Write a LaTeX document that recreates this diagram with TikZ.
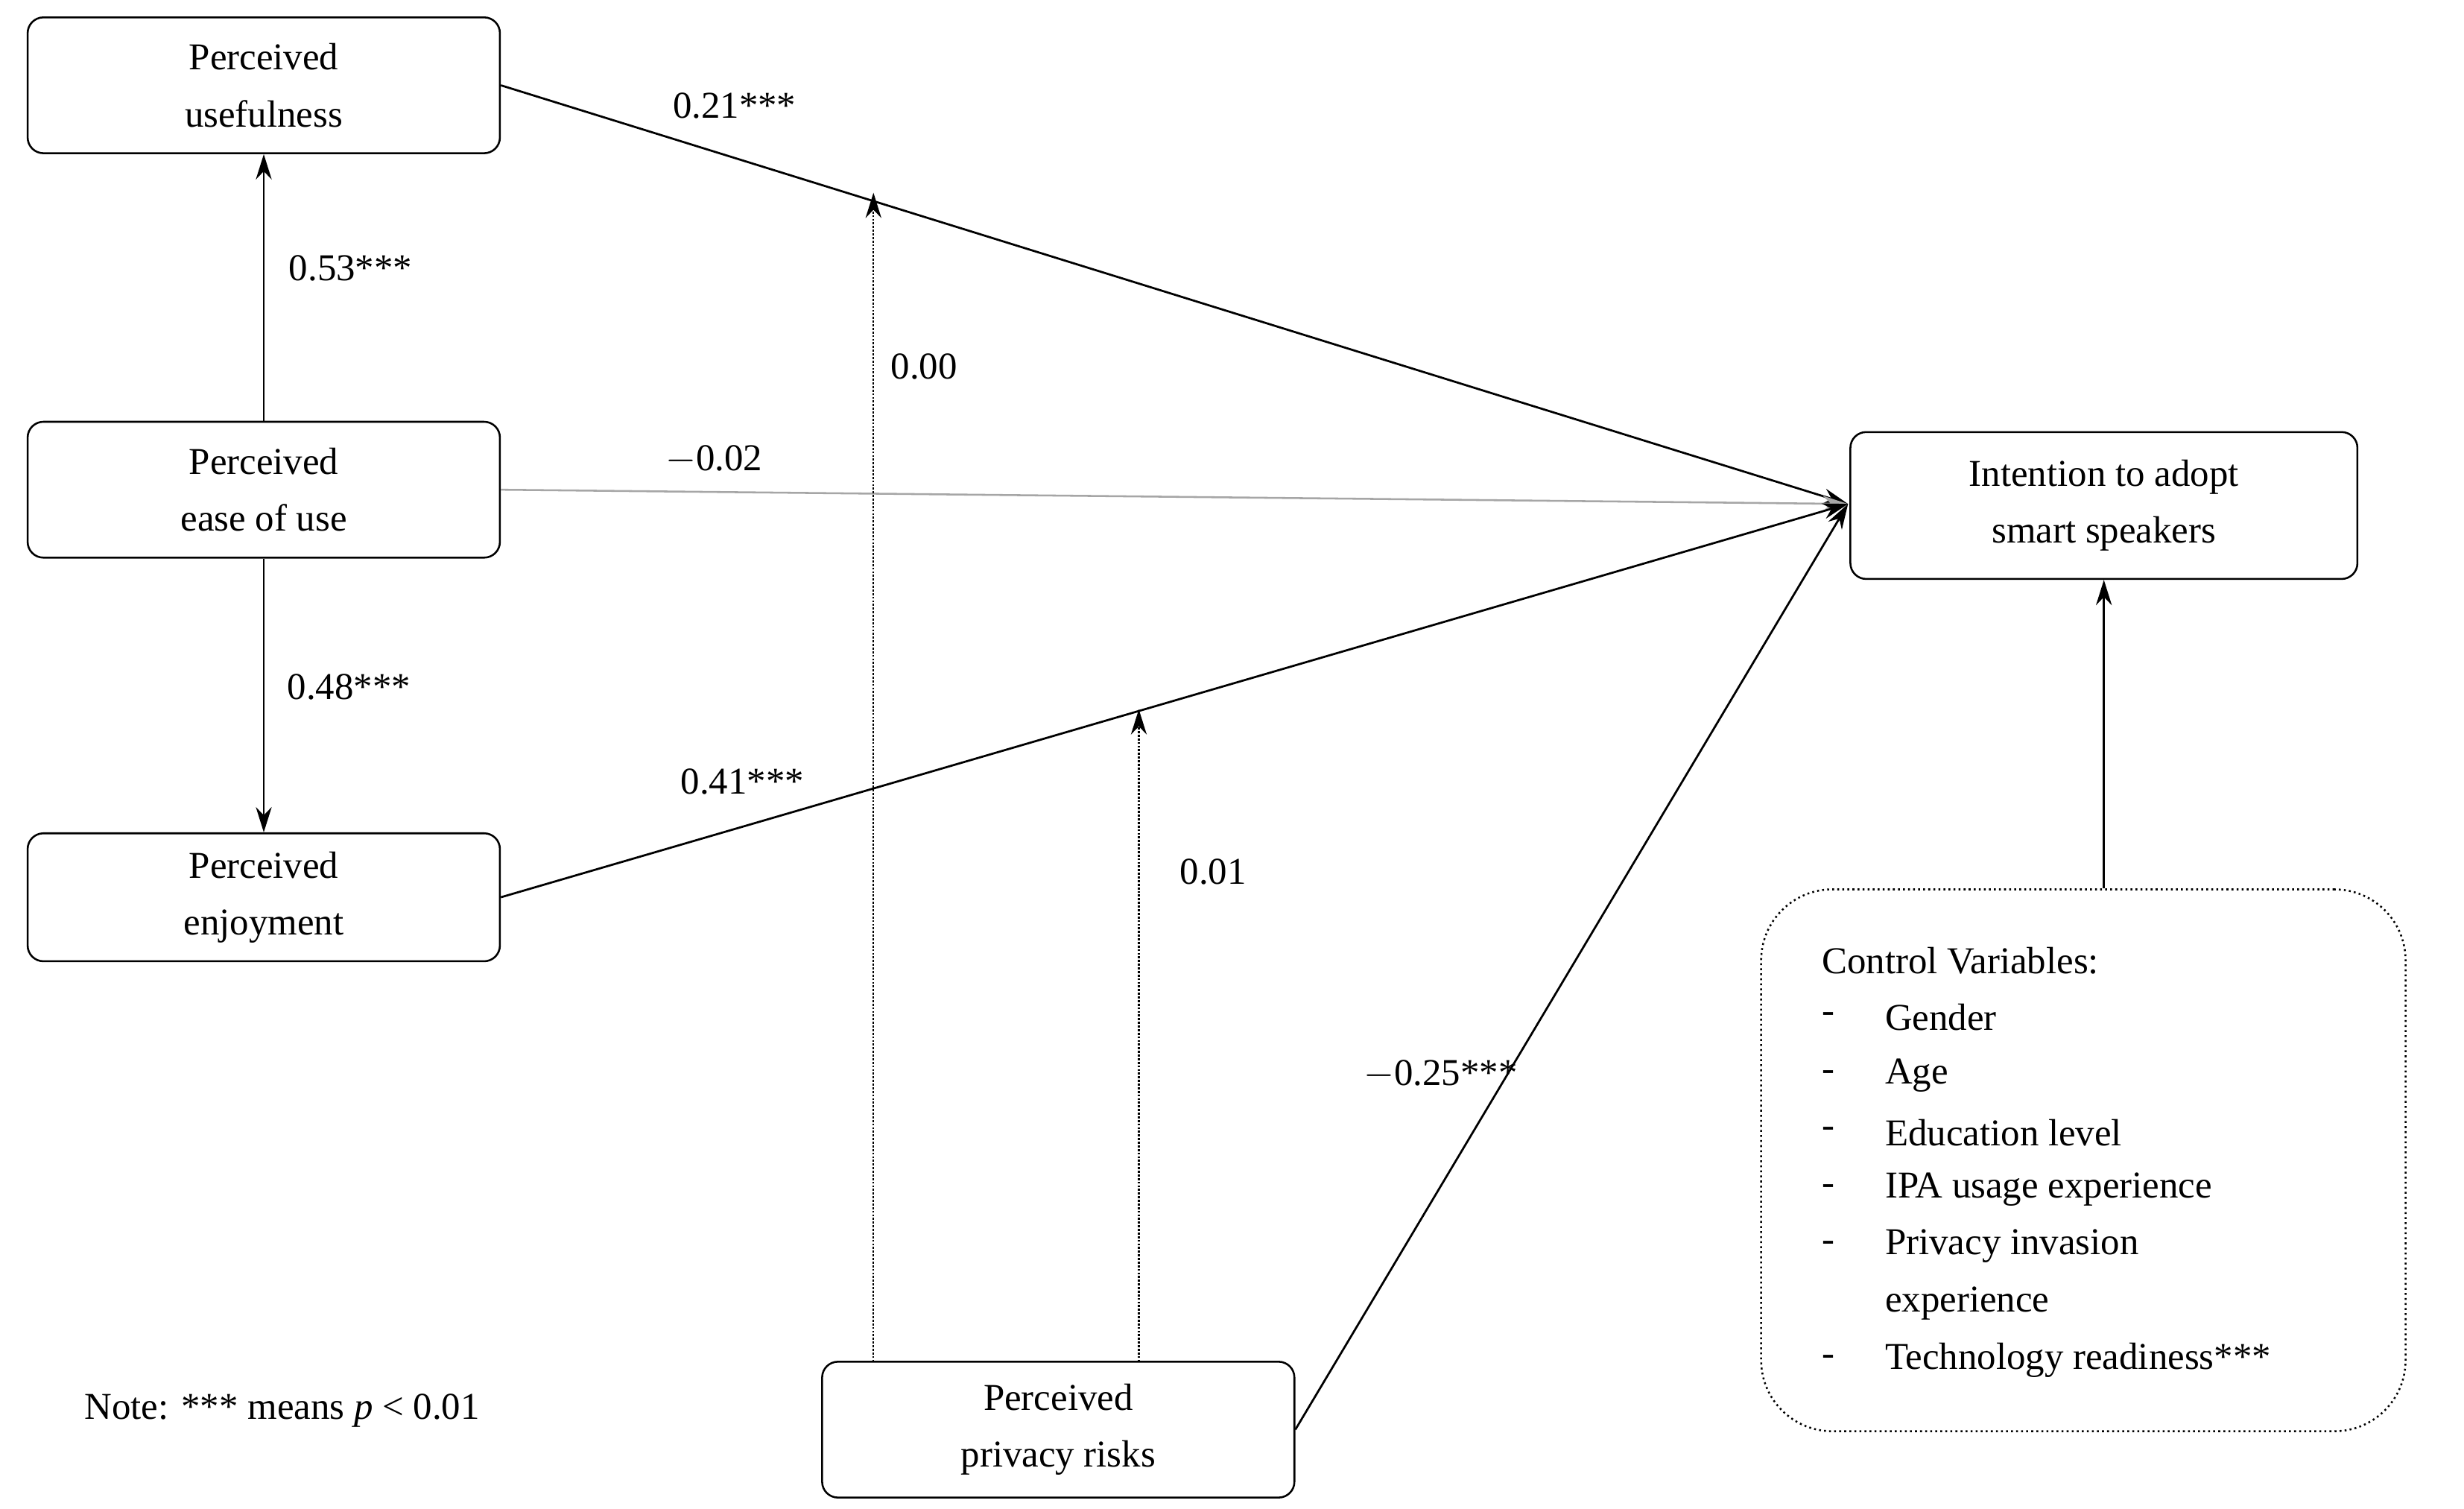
\documentclass[tikz,border=0pt]{standalone}
\usepackage{fontspec}
\setmainfont{Liberation Serif}
\usetikzlibrary{arrows.meta}
\begin{document}
\begin{tikzpicture}[x=1pt,y=-1pt,
  box/.style={draw,rounded corners=10pt,minimum width=299pt,align=center,line width=1.2pt,font=\fontsize{24}{36}\selectfont},
  arr/.style={-{Stealth[length=16pt,width=10pt]},line width=1.3pt},
  lab/.style={font=\fontsize{24}{28}\selectfont}]
\useasboundingbox (0,0) rectangle (1560,955);
\fill[white] (0,0) rectangle (1560,955);
\node[box,minimum height=86pt] (pu) at (167,54) {Perceived\\usefulness};
\node[box,minimum height=86pt] (peou) at (167,310) {Perceived\\ease of use};
\node[box,minimum height=81pt] (pe) at (167,568) {Perceived\\enjoyment};
\node[box,minimum height=93pt,minimum width=321pt] (int) at (1332,320) {Intention to adopt\\smart speakers};
\node[box,minimum height=86pt] (ppr) at (670,905) {Perceived\\privacy risks};
\node[draw,dotted,line width=1.2pt,rounded corners=45pt,minimum width=408pt,minimum height=343pt] (cv) at (1319,734.5) {};
\node[lab,anchor=west] (note) at (50,893) {Note: *** means \textit{p} < 0.01};
\coordinate (t) at (1170,319);
\draw[arr] (pu.east) -- (t);
\draw[arr,draw=gray!70,line width=1.2pt] (peou.east) -- (t);
\draw[arr] (pe.east) -- (t);
\draw[arr] (ppr.east) -- (t);
\draw[arr] (peou.north) -- (pu.south);
\draw[arr] (peou.south) -- (pe.south |- pe.north);
\draw[arr] (cv.north -| int.south) -- (int.south);
\coordinate (d1) at (553,862); \coordinate (d1e) at (553,122);
\coordinate (d2) at (721,862); \coordinate (d2e) at (721,449);
\draw[arr,densely dotted,line width=1pt] (d1) -- (d1e);
\draw[arr,densely dotted,line width=1pt] (d2) -- (d2e);
\node[lab] (l1) at (465,67) {0.21***};
\node[lab] (l2) at (222,170) {0.53***};
\node[lab] (l3) at (585,232) {0.00};
\node[lab] (l4) at (452,291) {$-$0.02};
\node[lab] (l5) at (221,435) {0.48***};
\node[lab] (l6) at (470,495) {0.41***};
\node[lab] (l7) at (768,552) {0.01};
\node[lab] (l8) at (912,680) {$-$0.25***};
\node[lab,anchor=west] (c0) at (1150,608) {Control Variables:};
\foreach \y/\t in {644/Gender,681/Age,717/Education level,753/IPA usage experience,789/Privacy invasion,861/Technology readiness***}{
  \node[lab,anchor=west] at (1150,\y) {-};
  \node[lab,anchor=west] at (1190,\y) {\t};
}
\node[lab,anchor=west] (c6) at (1190,825) {experience};
\end{tikzpicture}
\end{document}
